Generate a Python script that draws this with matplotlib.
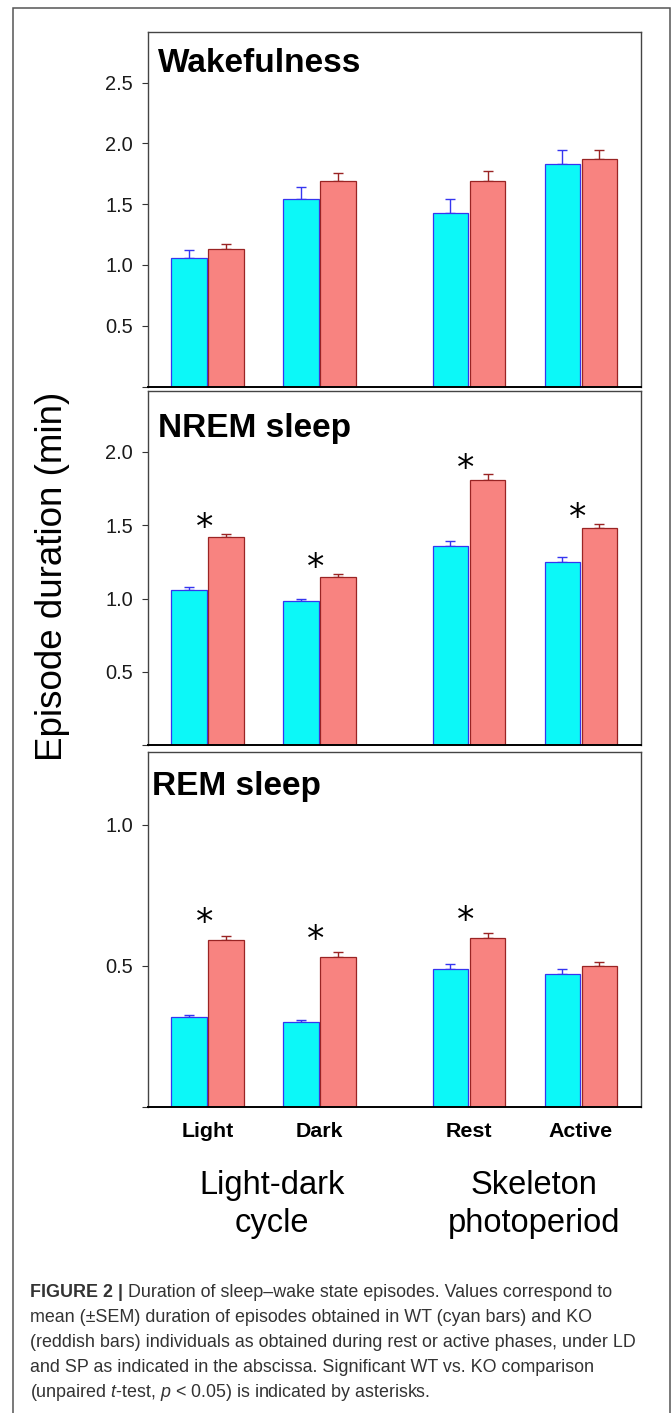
import numpy as np
import matplotlib
matplotlib.use('Agg')
import matplotlib.pyplot as plt
from matplotlib.patches import Rectangle

plt.rcParams['font.family'] = ['Liberation Sans', 'DejaVu Sans']
plt.rcParams['mathtext.fontset'] = 'custom'
plt.rcParams['mathtext.it'] = 'Liberation Sans:italic'
plt.rcParams['mathtext.rm'] = 'Liberation Sans'

# categories along the abscissa
conditions = ['Light', 'Dark', 'Rest', 'Active']
group_names = [['Light-dark', 'cycle'], ['Skeleton', 'photoperiod']]
states = ['Wakefulness', 'NREM sleep', 'REM sleep']

# mean episode duration (min) and SEM, WT (cyan) and KO (reddish)
wt_mean = [[1.06, 1.54, 1.43, 1.83],
           [1.06, 0.98, 1.36, 1.25],
           [0.32, 0.30, 0.49, 0.47]]
wt_sem = [[0.06, 0.10, 0.11, 0.12],
          [0.016, 0.016, 0.03, 0.03],
          [0.007, 0.008, 0.015, 0.019]]
ko_mean = [[1.13, 1.69, 1.69, 1.87],
           [1.42, 1.15, 1.81, 1.48],
           [0.59, 0.53, 0.60, 0.50]]
ko_sem = [[0.04, 0.07, 0.085, 0.08],
          [0.02, 0.018, 0.036, 0.028],
          [0.017, 0.018, 0.015, 0.014]]
# significant WT vs KO (asterisk)
signif = [[False, False, False, False],
          [True, True, True, True],
          [True, True, True, False]]

y_top = [2.917, 2.417, 1.257]
y_ticks = [[0, 0.5, 1.0, 1.5, 2.0, 2.5],
           [0, 0.5, 1.0, 1.5, 2.0],
           [0, 0.5, 1.0]]

caption = [' Duration of sleep\u2013wake state episodes. Values correspond to',
           'mean (\u00b1SEM) duration of episodes obtained in WT (cyan bars) and KO',
           '(reddish bars) individuals as obtained during rest or active phases, under LD',
           'and SP as indicated in the abscissa. Significant WT vs. KO comparison',
           '(unpaired $\\mathit{t}$-test, $\\mathit{p}$ < 0.05) is indicated by asterisks.']

W, H = 672, 1413
fig = plt.figure(figsize=(W / 100, H / 100), dpi=100)

pos = np.array([1, 2, 3.337, 4.337])
bw = 0.318
panel_tops = [32, 390.7, 752.3]
panel_h = 354.5
title_xy = [(0.0195, 0.954), (0.0195, 0.937), (0.0085, 0.947)]
star_off = [4, 4, 9]

cyan, cyan_edge = '#0cf8f8', '#3535f0'
red, red_edge = '#f88380', '#9a2424'

axes = []
for i in range(3):
    top = panel_tops[i]
    ax = fig.add_axes([148 / W, 1 - (top + panel_h) / H, 492.7 / W, panel_h / H])
    axes.append(ax)
    ax.bar(pos - 0.166, wt_mean[i], bw, color=cyan, edgecolor=cyan_edge, linewidth=0.9, zorder=2)
    ax.bar(pos + 0.166, ko_mean[i], bw, color=red, edgecolor=red_edge, linewidth=0.9, zorder=2)
    ax.errorbar(pos - 0.166, wt_mean[i], yerr=[np.zeros(4), wt_sem[i]], fmt='none',
                ecolor=cyan_edge, elinewidth=1, capsize=3.8, capthick=1, zorder=1)
    ax.errorbar(pos + 0.166, ko_mean[i], yerr=[np.zeros(4), ko_sem[i]], fmt='none',
                ecolor=red_edge, elinewidth=1, capsize=3.8, capthick=1, zorder=1)
    for j in range(4):
        if signif[i][j]:
            ax.annotate('*', xy=(pos[j] - 0.03, ko_mean[i][j] + ko_sem[i][j]),
                        xytext=(0, star_off[i]), textcoords='offset points',
                        ha='center', va='center', fontsize=25, family='DejaVu Sans')

    ax.set_xlim(0.467, 4.872)
    ax.set_ylim(0, y_top[i])
    ax.set_yticks(y_ticks[i])
    ax.set_yticklabels(['' if t == 0 else '%.1f' % t for t in y_ticks[i]])
    ax.tick_params(axis='y', length=4.3, width=0.8, color='#333333', pad=6.5,
                   labelsize=14.4, labelcolor='#1a1a1a')
    ax.tick_params(axis='x', length=0)
    for s in ['top', 'right', 'left']:
        ax.spines[s].set_color('#444444')
        ax.spines[s].set_linewidth(1.0)
    ax.spines['bottom'].set_color('black')
    ax.spines['bottom'].set_linewidth(1.4)
    ax.text(title_xy[i][0], title_xy[i][1], states[i], transform=ax.transAxes,
            va='top', ha='left', fontsize=24, fontweight='bold')
    if i < 2:
        ax.set_xticks([])
    else:
        ax.set_xticks(pos)
        ax.set_xticklabels(conditions, fontsize=15.4, fontweight='bold')
        ax.tick_params(axis='x', pad=11)

fig.text(35 / W, 1 - 576.5 / H, 'Episode duration (min)', rotation=90,
         ha='left', va='center', fontsize=26.5)

# group labels under the abscissa
group_x = [272, 534]
for g in range(2):
    for k, line in enumerate(group_names[g]):
        fig.text(group_x[g] / W, 1 - (1194.3 + 37.4 * k) / H, line,
                 ha='center', va='baseline', fontsize=23.5)

# outer frame
fig.patches.append(Rectangle((13 / W, -0.01), 657 / W, 1 - 8 / H + 0.01,
                             transform=fig.transFigure, fill=False,
                             edgecolor='#555555', linewidth=1.1))

# caption
cap_col = '#333333'
cap_size = 12.9
bold = fig.text(30 / W, 1 - 1296.7 / H, 'FIGURE 2 |', fontsize=cap_size,
                fontweight='bold', color=cap_col, va='baseline', ha='left')
fig.texts.append(matplotlib.text.Annotation(caption[0], xy=(1, 0), xycoords=bold,
                                            va='bottom', ha='left', fontsize=cap_size,
                                            color=cap_col))
fig.texts[-1].set_figure(fig)
for k in range(1, 5):
    fig.text(30 / W, 1 - (1296.7 + 25 * k) / H, caption[k], fontsize=cap_size,
             color=cap_col, va='baseline', ha='left')

fig.savefig('out.png', dpi=100)
